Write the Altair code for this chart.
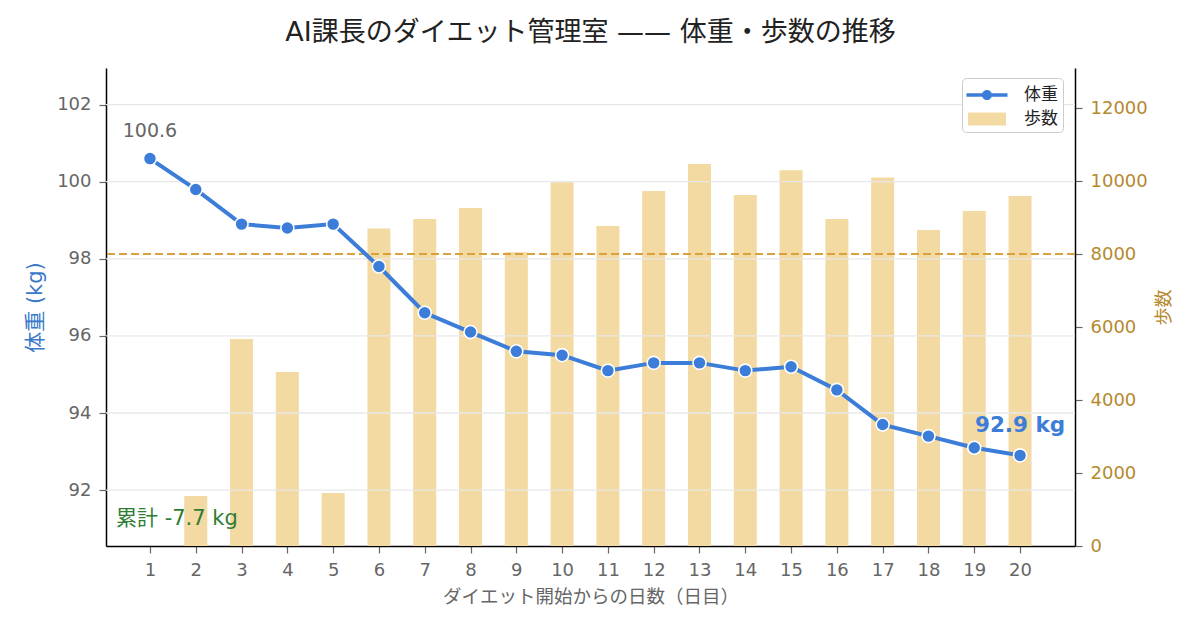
import pandas as pd
import altair as alt

FONT = "DejaVu Sans, Noto Sans CJK JP"
BLUE = "#3b7dd8"
BAR = "#f3d9a2"
GOLD = "#b5892e"
TARGET = "#d9a13d"

# data
days = list(range(1, 21))
weights = [100.6, 99.8, 98.9, 98.8, 98.9, 97.8, 96.6, 96.1, 95.6, 95.5,
           95.1, 95.3, 95.3, 95.1, 95.2, 94.6, 93.7, 93.4, 93.1, 92.9]
steps = [0, 1370, 5670, 4770, 1450, 8700, 8960, 9260, 8050, 9970,
         8770, 9730, 10470, 9620, 10300, 8960, 10100, 8660, 9180, 9590]
step_target = 8000
weight_ticks = [92, 94, 96, 98, 100, 102]
step_ticks = [0, 2000, 4000, 6000, 8000, 10000, 12000]
series_names = ["体重", "歩数"]

df = pd.DataFrame({"day": days, "weight": weights, "steps": steps})
df["series"] = "歩数"
first = df.iloc[[0]].copy()
first["label"] = first["weight"].map(lambda v: f"{v:.1f}")
last = df.iloc[[-1]].copy()
last["label"] = last["weight"].map(lambda v: f"{v:.1f} kg")
total = weights[-1] - weights[0]

W, H = 969, 478

x_scale = alt.Scale(domain=[0.04, 21.2], nice=False, zero=False, padding=0)
w_scale = alt.Scale(domain=[90.55, 102.95], nice=False, zero=False)
s_scale = alt.Scale(domain=[0, 13100], nice=False)

common = dict(
    grid=False, labelFont=FONT, labelFontSize=18, tickColor="#666", tickSize=7,
    tickWidth=1.2, labelPadding=8, domainColor="black", domainWidth=1.5,
    titleFont=FONT, titleFontWeight="normal",
)

x_axis = alt.Axis(
    values=days, title="ダイエット開始からの日数（日目）", labelColor="#666",
    titleColor="#666", titleFontSize=18.5, titlePadding=8, **common,
)
w_axis = alt.Axis(
    orient="left", values=weight_ticks, title="体重 (kg)", labelColor="#666",
    titleColor="#3a78c8", titleFontSize=21, titlePadding=11, **common,
)
s_axis = alt.Axis(
    orient="right", values=step_ticks, format="d", title="歩数", labelColor=GOLD,
    titleColor=GOLD, titleFontSize=18, titleAngle=270, titlePadding=26, **common,
)

# legend symbols: line with dot for 体重, block for 歩数
line_dot = ("M-1.71,-0.15L1.71,-0.15L1.71,0.15L-1.71,0.15Z"
            "M0.42,0A0.42,0.42,0,1,1,-0.42,0A0.42,0.42,0,1,1,0.42,0Z")
block = "M-1.58,-0.54L1.58,-0.54L1.58,0.54L-1.58,0.54Z"

bars = alt.Chart(df).mark_bar(size=23).encode(
    x=alt.X("day:Q", scale=x_scale, axis=x_axis),
    y=alt.Y("steps:Q", scale=s_scale, axis=s_axis),
    color=alt.Color("series:N", scale=alt.Scale(domain=series_names, range=[BLUE, BAR]),
                    legend=alt.Legend(
                        title=None, orient="none", legendX=856, legendY=10,
                        labelFont=FONT, labelFontSize=17, labelColor="#222",
                        symbolType={"expr": f"datum.value === '体重' ? '{line_dot}' : '{block}'"},
                        symbolSize=576, symbolOffset=8, labelOffset=25,
                        symbolOpacity=1, symbolStrokeWidth=0,
                        padding=5, rowPadding=4,
                        strokeColor="#cccccc", cornerRadius=4, fillColor="white",
                    )),
)

target = alt.Chart(df).mark_rule(color=TARGET, strokeDash=[8, 4], strokeWidth=1.6).encode(
    y=alt.YDatum(step_target, scale=s_scale, axis=s_axis),
)

steps_layer = alt.layer(bars, target)

grid = alt.Chart(pd.DataFrame({"g": weight_ticks})).mark_rule(
    color="#e8e8e8", strokeWidth=1.3
).encode(y=alt.Y("g:Q", scale=w_scale, axis=w_axis))

xw = alt.X("day:Q", scale=x_scale, axis=x_axis)
yw = alt.Y("weight:Q", scale=w_scale, axis=w_axis)

line = alt.Chart(df).mark_line(color=BLUE, strokeWidth=4).encode(x=xw, y=yw)

points = alt.Chart(df).mark_circle(
    size=170, color=BLUE, opacity=1, stroke="white", strokeWidth=1.6
).encode(x=xw, y=yw)

first_label = alt.Chart(first).mark_text(
    font=FONT, fontSize=19, color="#666", dy=-28
).encode(x=xw, y=yw, text="label:N")

last_label = alt.Chart(last).mark_text(
    font=FONT, fontSize=21.5, fontWeight="bold", color=BLUE, dy=-29
).encode(x=xw, y=yw, text="label:N")

total_label = alt.Chart(pd.DataFrame({"t": [f"累計 {total:.1f} kg"]})).mark_text(
    font=FONT, fontSize=21, color="#2e7d32", align="left", baseline="middle"
).encode(x=alt.value(10), y=alt.value(H - 27), text="t:N")

weight_layer = alt.layer(grid, line, points, first_label, last_label, total_label)

chart = (
    alt.layer(steps_layer, weight_layer)
    .resolve_scale(y="independent")
    .properties(
        width=W, height=H,
        autosize="none",
        padding={"left": 98, "top": 60, "right": 110, "bottom": 70},
        title=alt.TitleParams(
            "AI課長のダイエット管理室 —— 体重・歩数の推移",
            font=FONT, fontSize=27, fontWeight="normal", color="#222",
            anchor="middle", offset=21,
        ),
    )
    .configure_view(strokeWidth=0)
)

chart.save("out.html", embed_options={"renderer": "svg", "actions": False})
